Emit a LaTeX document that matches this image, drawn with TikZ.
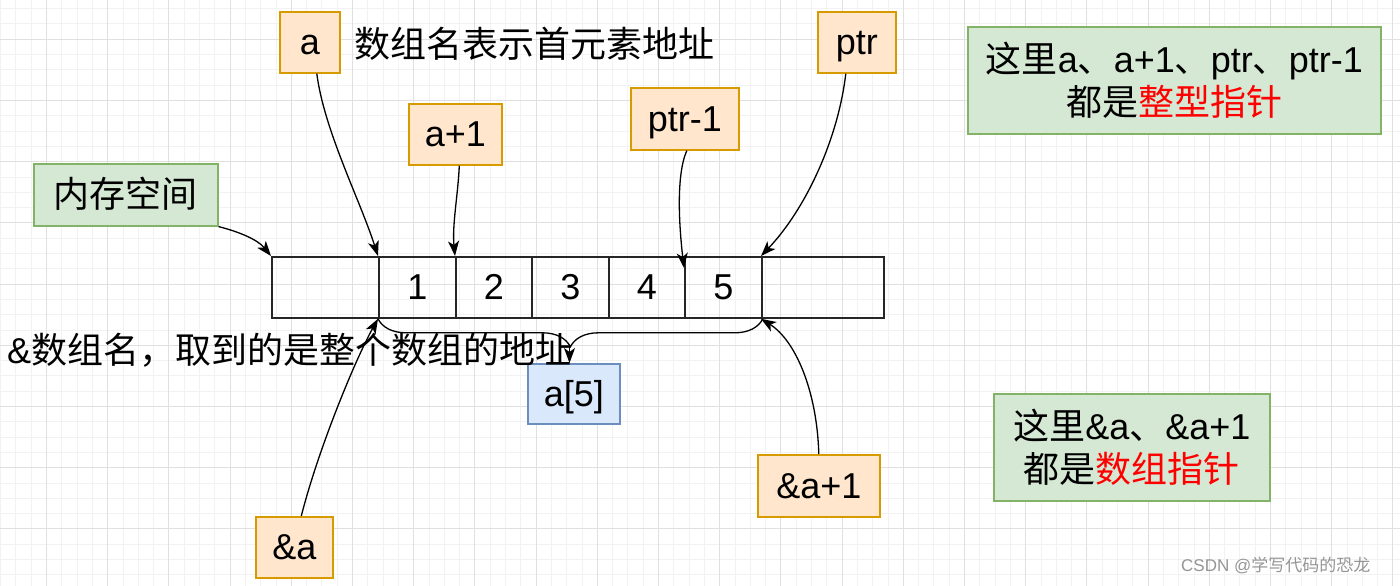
\documentclass[tikz,border=0pt]{standalone}
\usepackage{fontspec}
\setmainfont{Liberation Sans}
\newfontfamily\cjk{Noto Sans CJK SC}
\usetikzlibrary{arrows.meta,decorations.pathreplacing}
\definecolor{orF}{HTML}{FFE6CC}
\definecolor{orS}{HTML}{D79B00}
\definecolor{grF}{HTML}{D5E8D4}
\definecolor{grS}{HTML}{82B366}
\definecolor{blF}{HTML}{DAE8FC}
\definecolor{blS}{HTML}{6C8EBF}
\definecolor{gmaj}{HTML}{E0E0E0}
\definecolor{gmin}{HTML}{F2F2F2}
\definecolor{wmc}{HTML}{959595}
\definecolor{redt}{HTML}{FF0000}
\begin{document}
\begin{tikzpicture}[x=1pt,y=-1pt,
  big/.style={font=\fontsize{36}{43}\selectfont},
  box/.style={big, line width=1.6pt, inner sep=0pt, align=center, anchor=north west},
  one/.style={text height=32pt, text depth=7pt},
  obox/.style={box, one, draw=orS, fill=orF},
  gbox/.style={box, draw=grS, fill=grF},
  bbox/.style={box, one, draw=blS, fill=blF},
  cell/.style={big, one, draw=black!85, line width=1.8pt, minimum height=61pt, inner sep=0pt, anchor=north west},
  arr/.style={line width=1.3pt, -{Stealth[length=15pt,width=11pt,inset=4pt]}},
  lbl/.style={big, inner sep=0pt, anchor=west}
]
\useasboundingbox (0,0) rectangle (1400,586);
\fill[white] (0,0) rectangle (1400,586);
% grid
\foreach \i in {0,...,91}{
  \pgfmathsetmacro{\gx}{0.6+15.3*\i}
  \draw[gmin, line width=1pt] (\gx,0) -- (\gx,586);
}
\foreach \j in {0,...,38}{
  \pgfmathsetmacro{\gy}{8.7+15.3*\j}
  \draw[gmin, line width=1pt] (0,\gy) -- (1400,\gy);
}
\foreach \i in {0,...,22}{
  \pgfmathsetmacro{\gx}{46.5+61.2*\i}
  \draw[gmaj, line width=1pt] (\gx,0) -- (\gx,586);
}
\foreach \j in {0,...,9}{
  \pgfmathsetmacro{\gy}{39.3+61.2*\j}
  \draw[gmaj, line width=1pt] (0,\gy) -- (1400,\gy);
}

% array cells
\node[cell, minimum width=107pt] (c0) at (271,256) {};
\node[cell, minimum width=77pt] (c1) at (378,256) {1};
\node[cell, minimum width=76pt] (c2) at (455,256) {2};
\node[cell, minimum width=77pt] (c3) at (531,256) {3};
\node[cell, minimum width=76pt] (c4) at (608,256) {4};
\node[cell, minimum width=77pt] (c5) at (684,256) {5};
\node[cell, minimum width=122pt] (c6) at (761,256) {};

% orange pointer boxes
\node[obox, minimum width=60pt, minimum height=61pt] (a) at (279,11) {a};
\node[obox, minimum width=93pt, minimum height=61pt] (a1) at (408,103) {a+1};
\node[obox, minimum width=108pt, minimum height=62pt] (pm1) at (630,87) {ptr-1};
\node[obox, minimum width=78pt, minimum height=61pt] (ptr) at (817,11) {ptr};
\node[obox, minimum width=122pt, minimum height=62pt] (aa1) at (757,454) {\&a+1};
\node[obox, minimum width=77pt, minimum height=61pt] (aa) at (255,516) {\&a};

% green boxes
\node[gbox, one, minimum width=184pt, minimum height=62pt] (mem) at (33,163) {{\cjk 内存空间}};
\node[gbox, minimum width=413pt, minimum height=107pt] (note1) at (967,26)
  {{\cjk 这里}a{\cjk 、}a+1{\cjk 、}ptr{\cjk 、}ptr-1\\{\cjk 都是\textcolor{redt}{整型指针}}};
\node[gbox, minimum width=276pt, minimum height=107pt] (note2) at (993,393)
  {{\cjk 这里}\&a{\cjk 、}\&a+1\\{\cjk 都是\textcolor{redt}{数组指针}}};

% blue box
\node[bbox, minimum width=92pt, minimum height=60pt] (a5) at (527,363) {a[5]};

% text labels
\node[lbl] (t1) at (354,44) {{\cjk 数组名表示首元素地址}};
\node[lbl] (t2) at (7,350) {\&{\cjk 数组名，取到的是整个数组的地址}};

% watermark
\node[anchor=west, inner sep=0pt, text=wmc, font=\fontsize{17}{20}\selectfont] (wm) at (1181,565) {CSDN @{\cjk 学写代码的恐龙}};

% connectors
\draw[arr] (mem.south east) .. controls (240,232) and (258,240) .. (c0.north west);
\draw[arr] ([xshift=7pt]a.south) .. controls (324,130) and (360,200) .. (c1.north west);
\draw[arr] ([xshift=4pt]a1.south) .. controls (458,195) and (452,225) .. (c2.north west);
\coordinate (p4) at ([yshift=-12pt]c5.north west);
\draw[arr] ([xshift=2pt]pm1.south) .. controls (676,175) and (679,225) .. (p4);
\draw[arr] ([xshift=-11pt]ptr.south) .. controls (838,140) and (805,210) .. (c6.north west);
\draw[arr] ([xshift=7pt]aa.north) .. controls (318,450) and (355,360) .. (c1.south west);
\draw[arr] (aa1.north) .. controls (817,390) and (795,340) .. (c6.south west);

% brace
\draw[line width=1.3pt, decorate, decoration={brace, mirror, amplitude=28pt}] (c1.south west) -- (c5.south east);
\coordinate (btip) at (569.5,345);
\draw[arr] (btip) -- (btip |- a5.north);
\end{tikzpicture}
\end{document}
